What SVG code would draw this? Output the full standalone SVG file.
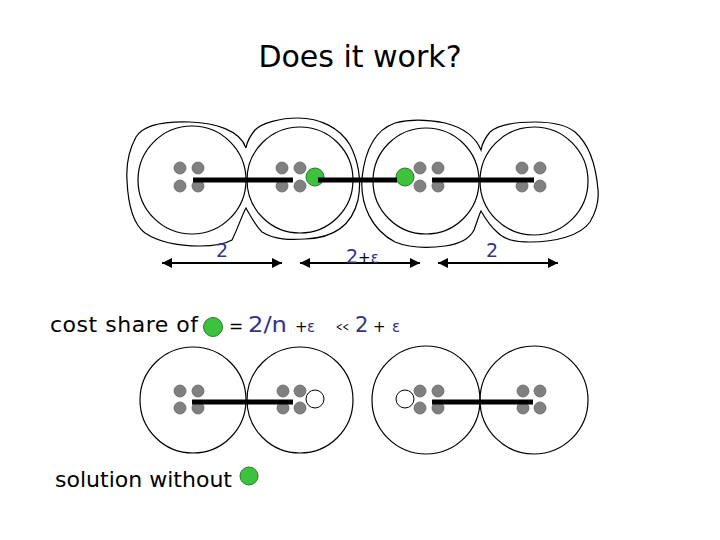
<svg xmlns="http://www.w3.org/2000/svg" width="720" height="540" viewBox="0 0 720 540">
<defs>
<marker id="ah" viewBox="0 0 10 10" refX="10" refY="5" markerWidth="10" markerHeight="10" markerUnits="userSpaceOnUse" orient="auto-start-reverse">
<path d="M0,0 L10,5 L0,10 Z" fill="#000"/>
</marker>
<style>
.ring{fill:none;stroke:#000;stroke-width:1.2}
.blob{fill:none;stroke:#000;stroke-width:1.2}
.dot{fill:#808080;stroke:#666;stroke-width:0.8}
.g{fill:#3cc23c;stroke:#2a7a2a;stroke-width:1}
.w{fill:#fff;stroke:#000;stroke-width:1}
.bar{stroke:#000;stroke-width:5;fill:none}
.arr{stroke:#000;stroke-width:2;fill:none}
text{font-family:"Comic Sans MS","DejaVu Sans","Liberation Sans",sans-serif}
.blue{fill:#33338a}
</style>
</defs>
<rect width="720" height="540" fill="#fff"/>

<text x="360" y="67" font-size="30" text-anchor="middle" fill="#000">Does it work?</text>

<g id="top-row">
<g id="outer-12"><path class="blob" d="M246,148 C240,130 215,123 190,122 C160,121 142,127 136,137 C129,150 126,165 127,180 C128,205 133,224 145,233 C160,243 180,246 200,246 C215,246 225,244 232,240 C238,228 242,215 246,208 C250,215 255,225 262,232 C275,240 290,240 305,239 C335,238 352,225 358,200 C362,180 358,160 350,145 C340,128 320,118 298,118 C280,118 262,123 255,130 C250,136 247,142 246,148 Z"/></g>
<g id="outer-34"><path class="blob" d="M481,150 C476,138 465,128 445,123 C430,120 410,119 395,123 C375,130 365,150 362,178 C360,205 372,230 395,242 C410,248 430,248 445,246 C460,244 470,238 474,230 C477,222 479,215 481,211 C485,218 490,226 497,232 C505,240 515,242 530,242 C555,242 580,236 590,222 C597,210 599,200 598,190 C596,165 590,145 575,132 C565,124 550,122 535,122 C515,122 498,125 490,132 C485,138 482,144 481,150 Z"/></g>
<g id="t1"><circle class="ring" cx="192" cy="180" r="54"/><circle class="dot" cx="180" cy="168" r="6"/><circle class="dot" cx="198" cy="168" r="6"/><circle class="dot" cx="180" cy="186" r="6"/><circle class="dot" cx="198" cy="186" r="6"/></g>
<g id="t2"><circle class="ring" cx="300" cy="180" r="53"/><circle class="dot" cx="282" cy="168" r="6"/><circle class="dot" cx="300" cy="168" r="6"/><circle class="dot" cx="282" cy="186" r="6"/><circle class="dot" cx="300" cy="186" r="6"/><circle class="g" cx="315" cy="177" r="9"/></g>
<g id="t3"><circle class="ring" cx="426" cy="181" r="53"/><circle class="dot" cx="420" cy="168" r="6"/><circle class="dot" cx="438" cy="168" r="6"/><circle class="dot" cx="420" cy="186" r="6"/><circle class="dot" cx="438" cy="186" r="6"/><circle class="g" cx="405" cy="177" r="9"/></g>
<g id="t4"><circle class="ring" cx="534" cy="181" r="54"/><circle class="dot" cx="522" cy="168" r="6"/><circle class="dot" cx="540" cy="168" r="6"/><circle class="dot" cx="522" cy="186" r="6"/><circle class="dot" cx="540" cy="186" r="6"/></g>
</g>

<g id="bottom-row">
<g id="b1"><circle class="ring" cx="193" cy="400" r="53"/><circle class="dot" cx="180" cy="391" r="6"/><circle class="dot" cx="198" cy="391" r="6"/><circle class="dot" cx="180" cy="408" r="6"/><circle class="dot" cx="198" cy="408" r="6"/></g>
<g id="b2"><circle class="ring" cx="300" cy="400" r="53"/><circle class="dot" cx="283" cy="391" r="6"/><circle class="dot" cx="300" cy="391" r="6"/><circle class="dot" cx="283" cy="408" r="6"/><circle class="dot" cx="300" cy="408" r="6"/><circle class="w" cx="315" cy="399" r="9"/></g>
<g id="b3"><circle class="ring" cx="426" cy="400" r="54"/><circle class="dot" cx="420" cy="391" r="6"/><circle class="dot" cx="438" cy="391" r="6"/><circle class="dot" cx="420" cy="408" r="6"/><circle class="dot" cx="438" cy="408" r="6"/><circle class="w" cx="405" cy="399" r="9"/></g>
<g id="b4"><circle class="ring" cx="534" cy="400" r="54"/><circle class="dot" cx="523" cy="391" r="6"/><circle class="dot" cx="540" cy="391" r="6"/><circle class="dot" cx="523" cy="408" r="6"/><circle class="dot" cx="540" cy="408" r="6"/></g>
</g>

<g id="connectors">
<line class="bar" x1="193" y1="180" x2="293" y2="180"/>
<line class="bar" x1="318" y1="180" x2="397" y2="180"/>
<line class="bar" x1="432" y1="180" x2="534" y2="180"/>
<line class="bar" x1="192" y1="402" x2="293" y2="402"/>
<line class="bar" x1="432" y1="402" x2="533" y2="402"/>
<line class="arr" x1="162" y1="263" x2="282" y2="263" marker-start="url(#ah)" marker-end="url(#ah)"/>
<line class="arr" x1="300" y1="263" x2="420" y2="263" marker-start="url(#ah)" marker-end="url(#ah)"/>
<line class="arr" x1="438" y1="263" x2="558" y2="263" marker-start="url(#ah)" marker-end="url(#ah)"/>
</g>

<g id="labels">
<text x="222" y="257" font-size="19" text-anchor="middle" class="blue">2</text>
<text x="492" y="257" font-size="19" text-anchor="middle" class="blue">2</text>
<text x="346" y="263" font-size="19" class="blue">2<tspan fill="#000" font-size="15">+</tspan><tspan font-size="15">ε</tspan></text>

<text x="50" y="332" font-size="22" textLength="148" lengthAdjust="spacing" fill="#000">cost share of</text>
<circle class="g" cx="213" cy="327" r="9.5"/>
<text x="229" y="332" font-size="17" fill="#000">=</text>
<text x="248" y="332" font-size="22" class="blue" textLength="39" lengthAdjust="spacingAndGlyphs">2/n</text>
<text x="295" y="332" font-size="15" fill="#000">+</text>
<text x="307" y="332" font-size="15" class="blue">ε</text>
<text x="336" y="331" font-size="12" fill="#000" textLength="13" lengthAdjust="spacingAndGlyphs">&lt;&lt;</text>
<text x="355" y="332" font-size="21" class="blue">2</text>
<text x="373" y="332" font-size="15" fill="#000">+</text>
<text x="392" y="332" font-size="15" class="blue">ε</text>

<text x="55" y="487" font-size="22" textLength="177" lengthAdjust="spacing" fill="#000">solution without</text>
<circle class="g" cx="249" cy="476" r="9"/>
</g>
</svg>
